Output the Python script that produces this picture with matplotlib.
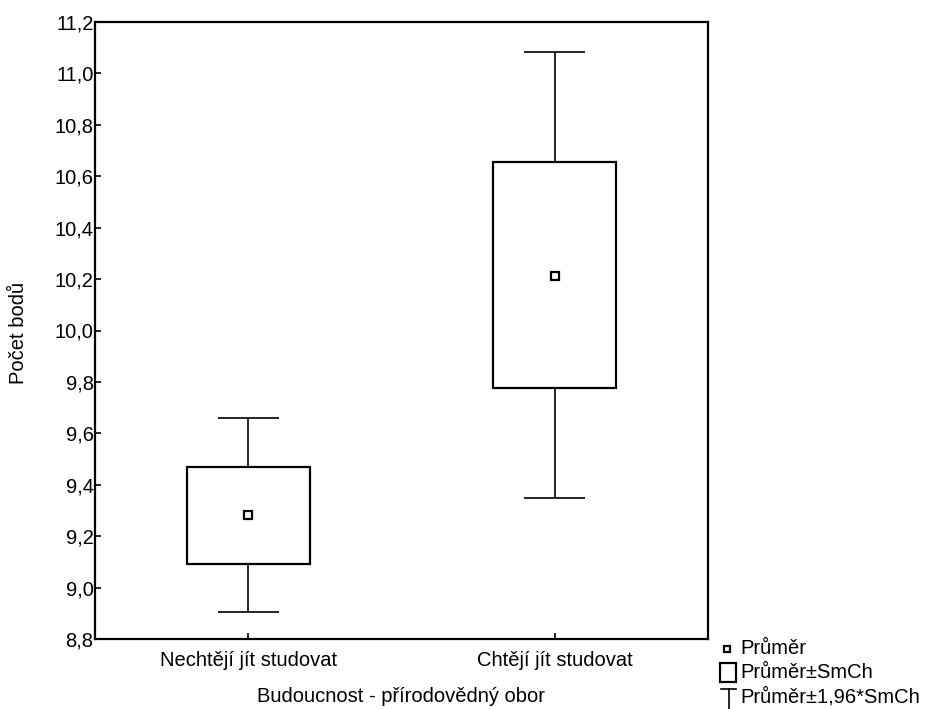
import matplotlib
matplotlib.use("Agg")
import matplotlib.pyplot as plt
from matplotlib.patches import Rectangle
from matplotlib.lines import Line2D

plt.rcParams['font.family'] = ['Liberation Sans', 'DejaVu Sans']

# ----------------------------
# DATA
# ----------------------------
categories = ["Nechtějí jít studovat", "Chtějí jít studovat"]
means = [9.282, 10.213]
box_low = [9.090, 9.777]      # mean - SE
box_high = [9.468, 10.655]    # mean + SE
whisk_low = [8.905, 9.350]    # mean - 1.96*SE
whisk_high = [9.660, 11.083]  # mean + 1.96*SE
yticks = [8.8, 9.0, 9.2, 9.4, 9.6, 9.8, 10.0, 10.2, 10.4, 10.6, 10.8, 11.0, 11.2]

W, H = 925, 709
FS = 14.5
fig = plt.figure(figsize=(W / 100, H / 100), dpi=100)
ax = fig.add_axes([95 / W, 1 - 639 / H, 613 / W, 617 / H])

pos = [1, 2]
box_w = 0.4
cap_w = 0.2
for x, lo, hi, wl, wh, m in zip(pos, box_low, box_high, whisk_low, whisk_high, means):
    ax.add_patch(Rectangle((x - box_w / 2, lo), box_w, hi - lo,
                           facecolor='white', edgecolor='black', linewidth=1.6, zorder=2))
    ax.vlines(x, hi, wh, color='black', linewidth=1.2, zorder=1)
    ax.vlines(x, wl, lo, color='black', linewidth=1.2, zorder=1)
    ax.hlines([wl, wh], x - cap_w / 2, x + cap_w / 2, color='black', linewidth=1.2)
    ax.plot(x, m, marker='s', ms=6, mfc='white', mec='black', mew=1.6, zorder=3)

ax.set_xlim(0.5, 2.5)
ax.set_ylim(8.8, 11.2)
ax.set_xticks(pos)
ax.set_xticklabels(categories)
ax.set_yticks(yticks)
ax.set_yticklabels([f"{v:.1f}".replace('.', ',') for v in yticks])
ax.tick_params(direction='in', length=4, width=1.2, labelsize=FS, color='black')
ax.tick_params(axis='y', pad=1)
ax.tick_params(axis='x', pad=9)
for s in ax.spines.values():
    s.set_linewidth(1.6)

fig.text(19 / W, 1 - 333 / H, "Počet bodů", rotation=90, ha='center', va='center', fontsize=FS)
fig.text(401 / W, 1 - 697 / H, "Budoucnost - přírodovědný obor", ha='center', va='center', fontsize=FS)

# ----------------------------
# LEGEND (drawn by hand, bottom right)
# ----------------------------
def fx(x):
    return x / W

def fy(y):
    return 1 - y / H

fig.add_artist(Line2D([fx(727)], [fy(649)], marker='s', ms=4.5, mfc='white', mec='black', mew=1.6,
                      transform=fig.transFigure))
fig.add_artist(Rectangle((fx(720), fy(682)), 16 / W, 19 / H, facecolor='white', edgecolor='black',
                         linewidth=1.6, transform=fig.transFigure))
fig.add_artist(Line2D([fx(721), fx(736)], [fy(689), fy(689)], color='black', linewidth=1.2,
                      transform=fig.transFigure))
fig.add_artist(Line2D([fx(728.5), fx(728.5)], [fy(689), fy(709)], color='black', linewidth=1.2,
                      transform=fig.transFigure))
legend_labels = ["Průměr", "Průměr±SmCh", "Průměr±1,96*SmCh"]
for lab, yy in zip(legend_labels, [649, 673, 697]):
    fig.text(fx(740), fy(yy), lab, ha='left', va='center', fontsize=FS)

fig.savefig("out.png", dpi=100)
